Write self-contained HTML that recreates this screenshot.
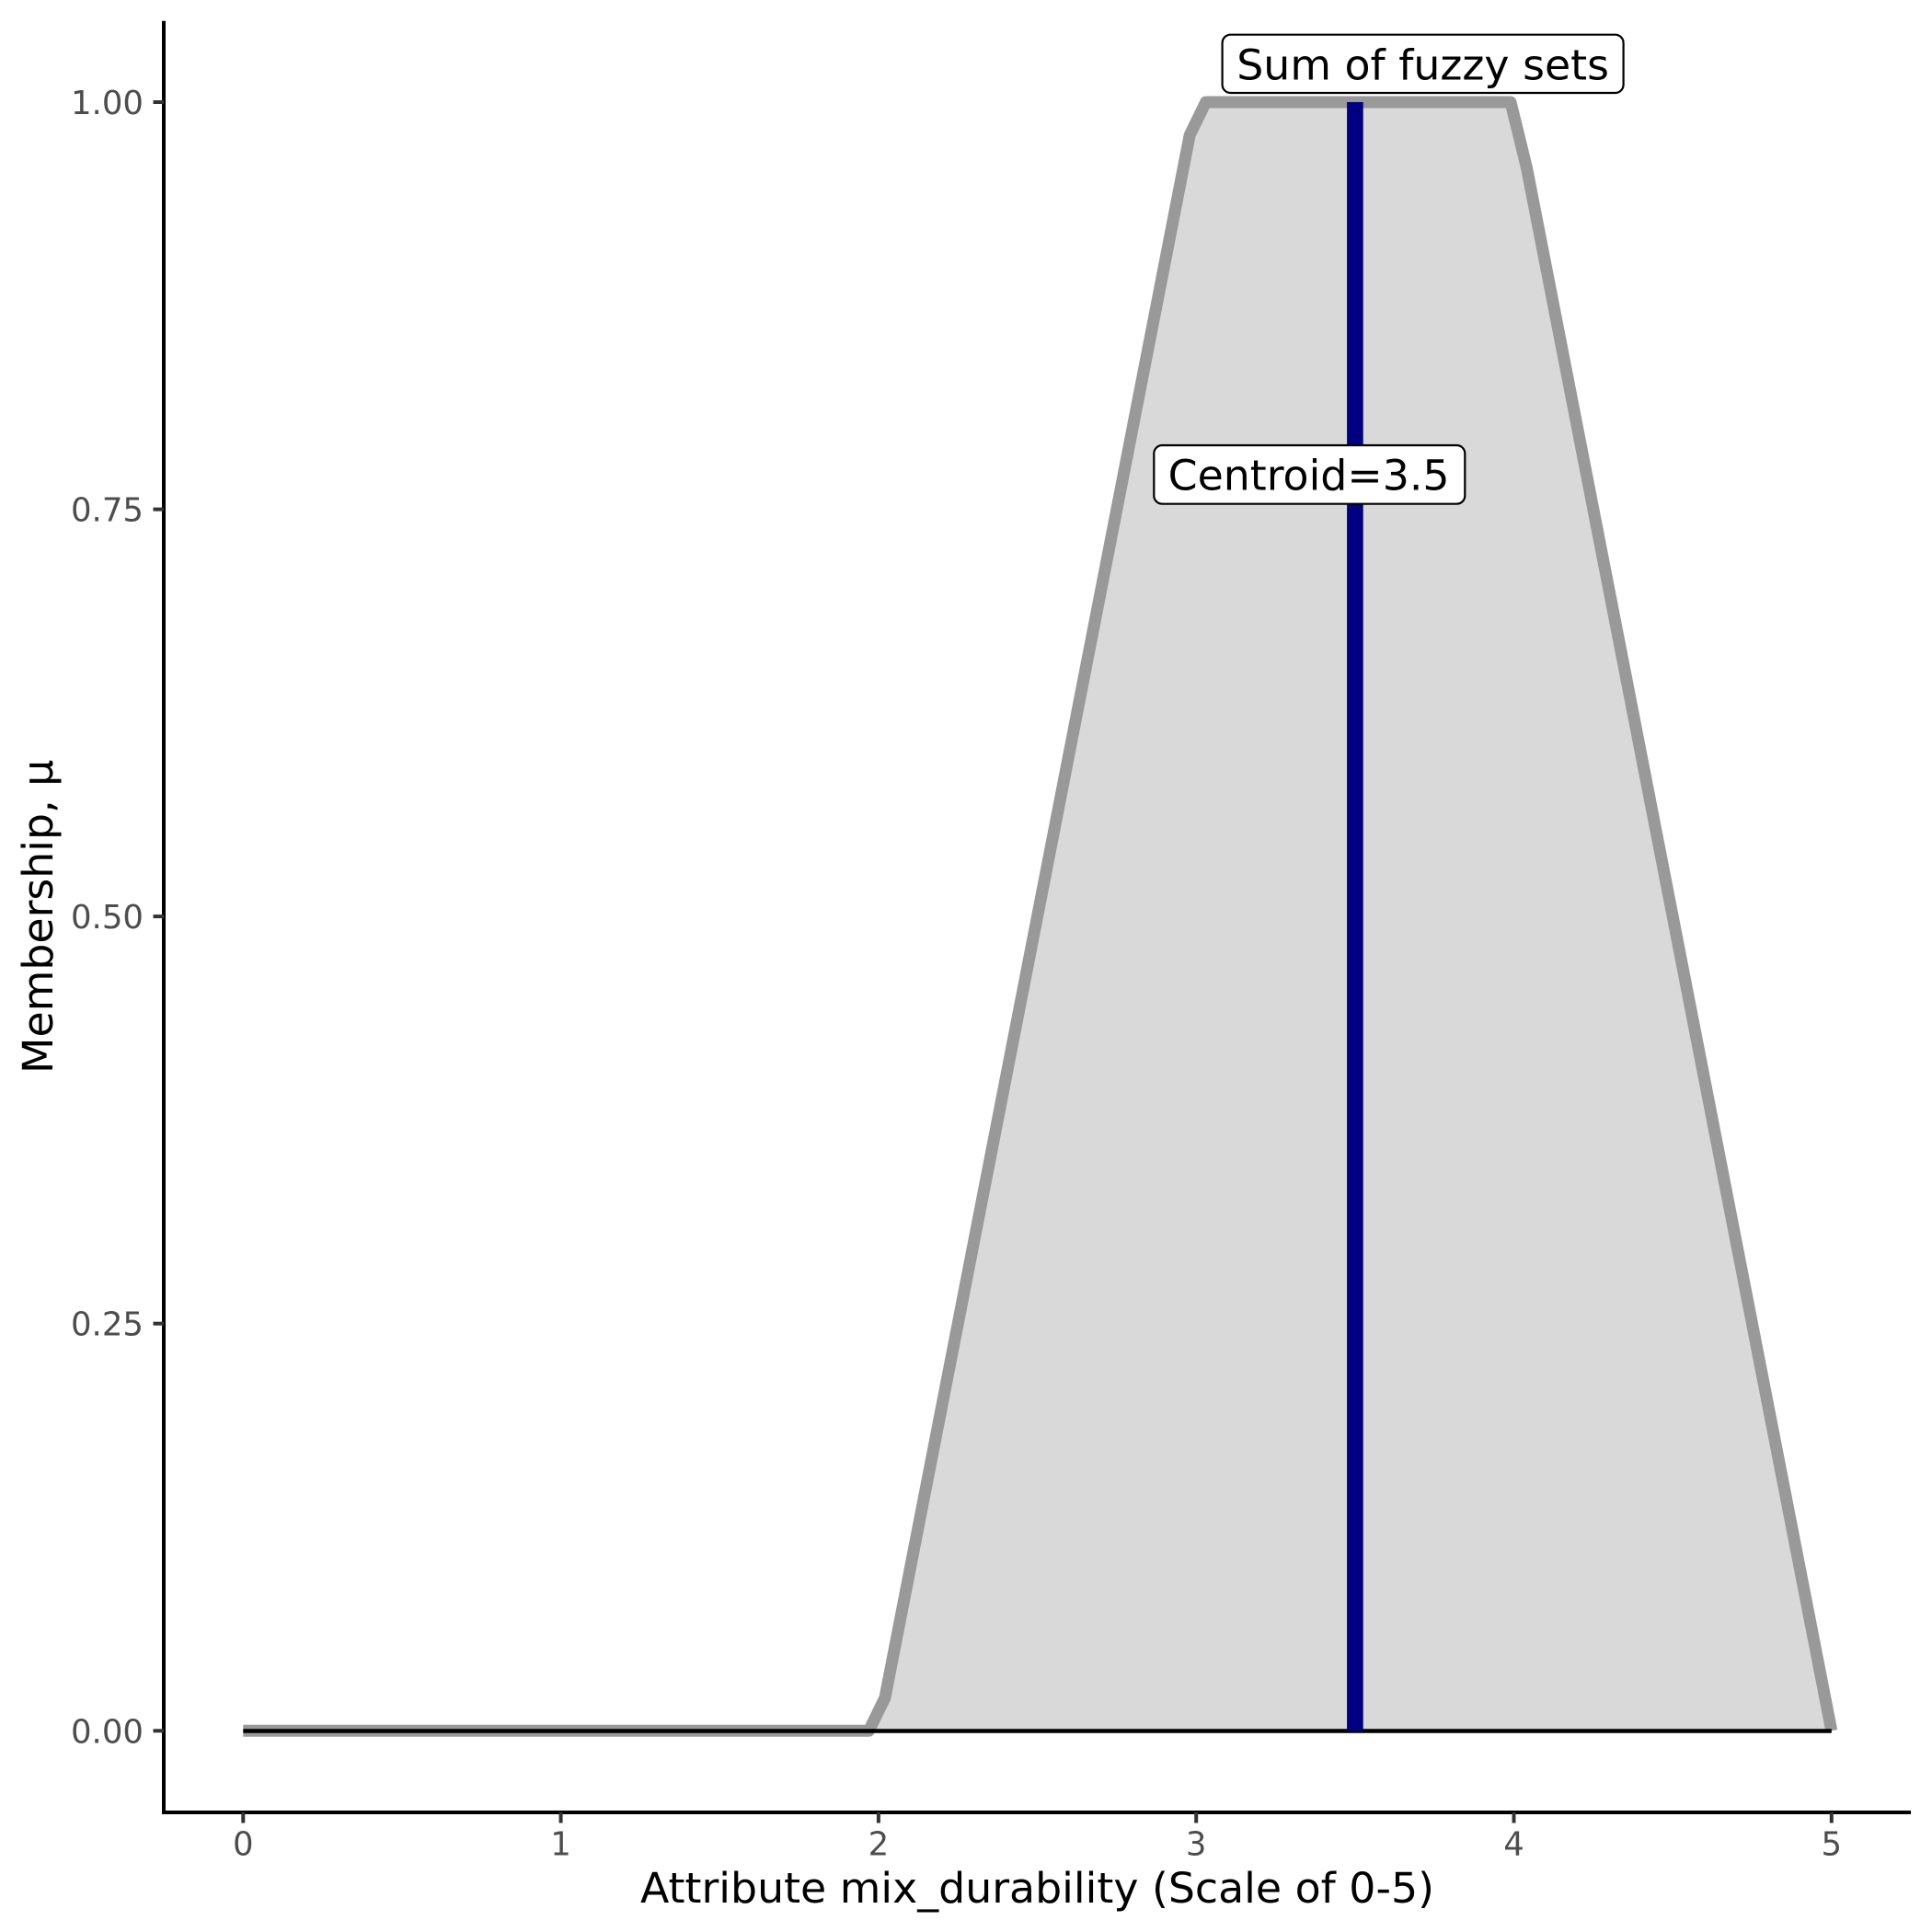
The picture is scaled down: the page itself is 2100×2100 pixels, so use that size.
<!DOCTYPE html>
<html>
<head>
<meta charset="utf-8">
<style>
  html, body { margin: 0; padding: 0; background: #ffffff; }
  svg { display: block; }
  text { font-family: "DejaVu Sans", "Liberation Sans", sans-serif; }
</style>
</head>
<body>
<svg width="2100" height="2100" viewBox="0 0 2100 2100" xmlns="http://www.w3.org/2000/svg">
  <rect x="0" y="0" width="2100" height="2100" fill="#ffffff"/>

  <!-- area fill -->
  <polygon points="264.3,1881.3 944.4,1881.3 961.9,1845.5 1293.2,146.8 1310.7,111 1642.0,111 1659.5,182.5 1990.8,1881.3"
           fill="#D9D9D9" stroke="none"/>

  <!-- grey membership line -->
  <polyline points="264.3,1881.3 944.4,1881.3 961.9,1845.5 1293.2,146.8 1310.7,111 1642.0,111 1659.5,182.5 1990.8,1881.3"
            fill="none" stroke="#999999" stroke-width="13" stroke-linejoin="round" stroke-linecap="butt"/>

  <!-- black baseline at 0 -->
  <line x1="264.3" y1="1881.5" x2="1990.8" y2="1881.5" stroke="#000000" stroke-width="4.6" stroke-linecap="butt"/>

  <!-- centroid line -->
  <line x1="1472.9" y1="111" x2="1472.9" y2="1881.3" stroke="#000080" stroke-width="17.6" stroke-linecap="butt"/>

  <!-- labels -->
  <rect x="1328.6" y="37.7" width="436" height="63.3" rx="9" ry="9" fill="#ffffff" stroke="#000000" stroke-width="2.2"/>
  <text x="1546.6" y="86.7" font-size="45.8" text-anchor="middle" fill="#000000">Sum of fuzzy sets</text>

  <rect x="1254.3" y="484" width="338" height="63.7" rx="9" ry="9" fill="#ffffff" stroke="#000000" stroke-width="2.2"/>
  <text x="1422.6" y="532.7" font-size="45.8" text-anchor="middle" fill="#000000">Centroid=3.5</text>

  <!-- axes -->
  <line x1="178" y1="22.7" x2="178" y2="1972" stroke="#000000" stroke-width="4" stroke-linecap="butt"/>
  <line x1="176" y1="1970" x2="2077" y2="1970" stroke="#000000" stroke-width="4" stroke-linecap="butt"/>

  <!-- y ticks -->
  <g stroke="#333333" stroke-width="4">
    <line x1="166.5" y1="111" x2="178" y2="111"/>
    <line x1="166.5" y1="553.6" x2="178" y2="553.6"/>
    <line x1="166.5" y1="996.1" x2="178" y2="996.1"/>
    <line x1="166.5" y1="1438.7" x2="178" y2="1438.7"/>
    <line x1="166.5" y1="1881.3" x2="178" y2="1881.3"/>
  </g>
  <g font-size="35.5" fill="#4D4D4D" text-anchor="end">
    <text x="156" y="124">1.00</text>
    <text x="156" y="566.6">0.75</text>
    <text x="156" y="1009.1">0.50</text>
    <text x="156" y="1451.7">0.25</text>
    <text x="156" y="1894.3">0.00</text>
  </g>

  <!-- x ticks -->
  <g stroke="#333333" stroke-width="4">
    <line x1="264.3" y1="1970" x2="264.3" y2="1981.5"/>
    <line x1="609.6" y1="1970" x2="609.6" y2="1981.5"/>
    <line x1="954.9" y1="1970" x2="954.9" y2="1981.5"/>
    <line x1="1300.2" y1="1970" x2="1300.2" y2="1981.5"/>
    <line x1="1645.5" y1="1970" x2="1645.5" y2="1981.5"/>
    <line x1="1990.8" y1="1970" x2="1990.8" y2="1981.5"/>
  </g>
  <g font-size="35.5" fill="#4D4D4D" text-anchor="middle">
    <text x="264.3" y="2016.7">0</text>
    <text x="609.6" y="2016.7">1</text>
    <text x="954.9" y="2016.7">2</text>
    <text x="1300.2" y="2016.7">3</text>
    <text x="1645.5" y="2016.7">4</text>
    <text x="1990.8" y="2016.7">5</text>
  </g>

  <!-- axis titles -->
  <text x="1127.5" y="2068" font-size="45.8" text-anchor="middle" fill="#000000">Attribute mix_durability (Scale of 0-5)</text>
  <text transform="translate(57,996.3) rotate(-90)" x="0" y="0" font-size="45.8" text-anchor="middle" fill="#000000">Membership, μ</text>
</svg>
</body>
</html>
